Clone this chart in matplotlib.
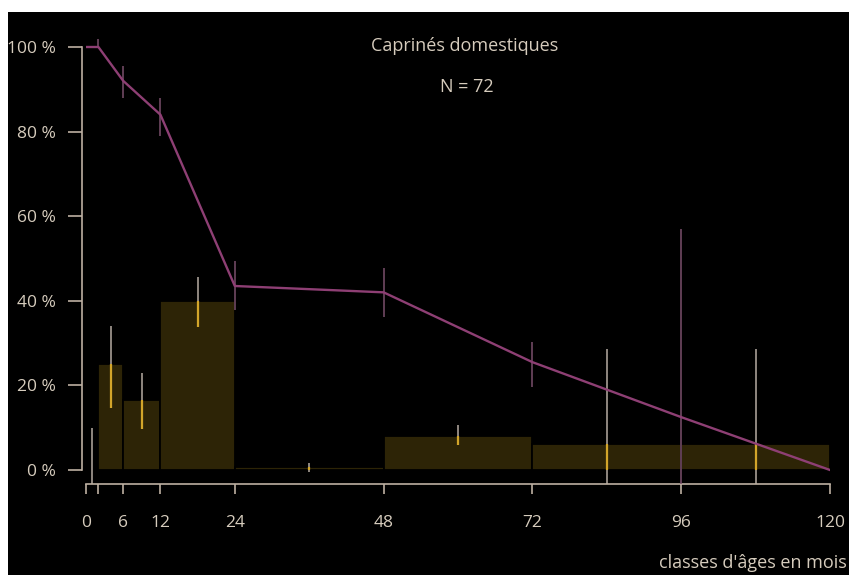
import numpy as np
import matplotlib.pyplot as plt
from matplotlib.patches import Rectangle

# classes d'âge (mois) et fréquences
class_edges = [0, 2, 6, 12, 24, 48, 72, 96, 120]
class_pct = [0, 25, 16.5, 40, 0.6, 8, 6.2, 6.2]
class_err_low = [-4, 14.7, 9.7, 33.8, -0.5, 5.9, -4, -4]
class_err_high = [10, 34, 23, 45.6, 1.6, 10.6, 28.5, 28.5]

# courbe de survie
surv_age = [0, 2, 6, 12, 24, 48, 72, 96, 120]
surv_pct = [100, 100, 92, 84, 43.5, 42, 25.5, 12.5, 0]
surv_err_age = [2, 6, 12, 24, 48, 72, 96]
surv_err_low = [100, 88, 79, 37.8, 36.2, 19.6, -4]
surv_err_high = [102, 95.5, 88, 49.4, 47.8, 30.3, 57]

xticks = [0, 2, 6, 12, 24, 48, 72, 96, 120]
xticklabels = ['0', '', '6', '12', '24', '48', '72', '96', '120']
yticks = [0, 20, 40, 60, 80, 100]

txt = '#d6ccbd'
axis_col = '#bdb0a2'
bar_col = '#2d2406'
gold = '#d2a52a'
grey = '#a89e96'
mauve = '#8e3f74'
mauve_err = '#7a4f6c'

plt.rcParams['font.family'] = ['Open Sans', 'DejaVu Sans']

W, H = 849, 575
fig = plt.figure(figsize=(W / 100, H / 100), dpi=100, facecolor='white')
fig.patches.append(Rectangle((8 / W, 0), 1, (H - 12) / H, transform=fig.transFigure,
                             facecolor='black', edgecolor='none', zorder=-10))

# 0 -> 86 px, 120 -> 830 px ; 0 % -> 470 px, 100 % -> 47 px
pxp = (470 - 47) / 100.0
ylo, yhi = -3.3, 103
bottom_px = 470 + (-ylo) * pxp
top_px = 47 - (yhi - 100) * pxp
ax = fig.add_axes([86 / W, (H - bottom_px) / H, 744 / W, (bottom_px - top_px) / H])
ax.set_facecolor('none')
ax.set_xlim(0, 120)
ax.set_ylim(ylo, yhi)

edges = np.array(class_edges)
mids = (edges[:-1] + edges[1:]) / 2
widths = np.diff(edges)
ax.bar(edges[:-1], class_pct, width=widths, align='edge', color=bar_col,
       edgecolor='black', linewidth=1.3, zorder=1)

# barres d'erreur des classes : gris au-dessus, or dans la barre
ax.vlines(mids, class_err_low, class_err_high, color=grey, linewidth=1.2, zorder=2)
gl = np.maximum(class_err_low, 0)
gh = np.minimum(class_err_high, class_pct)
m = gh > gl
ax.vlines(mids[m], gl[m], gh[m], color=gold, linewidth=1.6, zorder=3)

# survie
ax.vlines(surv_err_age, surv_err_low, surv_err_high, color=mauve_err,
          linewidth=1.1, zorder=3)
ax.plot(surv_age, surv_pct, color=mauve, linewidth=1.7, zorder=4)

for s in ['top', 'right']:
    ax.spines[s].set_visible(False)
ax.spines['left'].set_position(('outward', 3))
ax.spines['left'].set_bounds(0, 100)
ax.spines['bottom'].set_bounds(0, 120)
for s in ['left', 'bottom']:
    ax.spines[s].set_color(axis_col)
    ax.spines[s].set_linewidth(1.2)

ax.set_xticks(xticks)
ax.set_xticklabels(xticklabels)
ax.set_yticks(yticks)
ax.set_yticklabels([f'{v} %' for v in yticks])
ax.tick_params(axis='x', length=7, width=1.2, color=axis_col, labelcolor=txt,
               labelsize=12.5, pad=15)
ax.tick_params(axis='y', length=10, width=1.2, color=axis_col, labelcolor=txt,
               labelsize=12.5, pad=9)

fig.text(465 / W, 1 - 46 / H, 'Caprinés domestiques', color=txt, fontsize=13,
         ha='center', va='center')
fig.text(467 / W, 1 - 87 / H, 'N = 72', color=txt, fontsize=13,
         ha='center', va='center')
fig.text(847 / W, 1 - 563 / H, "classes d'âges en mois", color=txt, fontsize=13,
         ha='right', va='center')

fig.savefig('out.png', dpi=100, facecolor='white')
